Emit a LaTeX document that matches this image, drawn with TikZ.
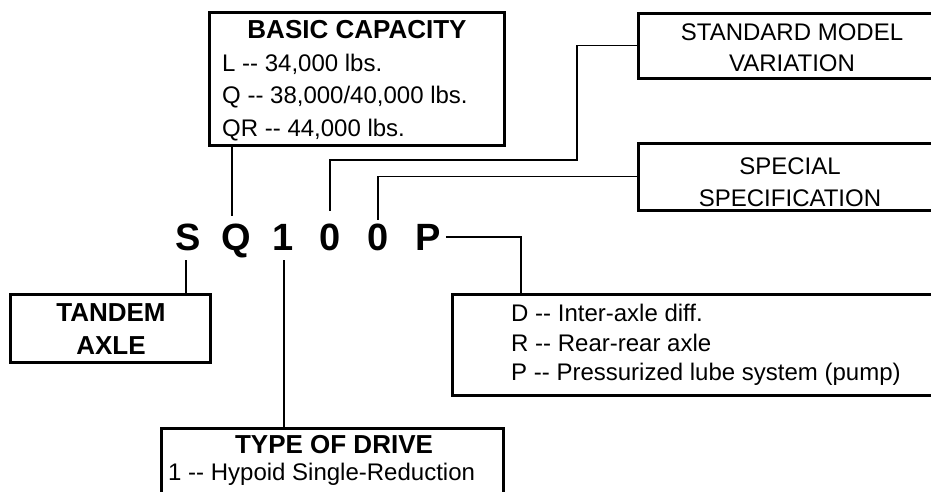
\documentclass[tikz,border=0pt]{standalone}
\usepackage{fontspec}
\setmainfont{Liberation Sans}
\newcommand{\dd}{-{}-}
\tikzset{
  box/.style={draw, line width=3pt, inner sep=0pt, outer sep=0pt, anchor=north west},
  conn/.style={line width=1.4pt},
  head/.style={font=\fontsize{26}{30}\selectfont\bfseries, inner sep=0pt, anchor=base},
  txt/.style={font=\fontsize{24}{28}\selectfont, inner sep=0pt, anchor=base west},
  ctxt/.style={font=\fontsize{24}{28}\selectfont, inner sep=0pt, anchor=base},
  code/.style={font=\fontsize{38}{40}\selectfont\bfseries, inner sep=0pt, anchor=base, text height=27pt, text depth=0pt}
}
\begin{document}
\begin{tikzpicture}[x=1pt,y=-1pt]
\useasboundingbox (0,0) rectangle (931,491);
\clip (0,0) rectangle (931,491);
% boxes
\node[box, minimum width=295pt, minimum height=133pt] (cap) at (209,12) {};
\node[box, minimum width=320pt, minimum height=65pt] (std) at (638,13) {};
\node[box, minimum width=320pt, minimum height=67pt] (spec) at (638,143) {};
\node[box, minimum width=200pt, minimum height=68pt] (tandem) at (10,294) {};
\node[box, minimum width=500pt, minimum height=101pt] (opt) at (452,294) {};
\node[box, minimum width=342pt, minimum height=80pt] (drive) at (161,428) {};
% texts
\node[head] (capT) at (357,38) {BASIC CAPACITY};
\node[txt] (capL) at (222,71) {L \dd\ 34,000 lbs.};
\node[txt] (capQ) at (222,103) {Q \dd\ 38,000/40,000 lbs.};
\node[txt] (capQR) at (222,136) {QR \dd\ 44,000 lbs.};
\node[ctxt] (stdA) at (792,40) {STANDARD MODEL};
\node[ctxt] (stdB) at (792,71) {VARIATION};
\node[ctxt] (specA) at (790,174) {SPECIAL};
\node[ctxt] (specB) at (790,206) {SPECIFICATION};
\node[head] (tanA) at (111,321) {TANDEM};
\node[head] (tanB) at (111,354) {AXLE};
\node[txt] (optD) at (511,321) {D \dd\ Inter-axle diff.};
\node[txt] (optR) at (511,351) {R \dd\ Rear-rear axle};
\node[txt] (optP) at (511,380) {P \dd\ Pressurized lube system (pump)};
\node[head] (drvT) at (334,453) {TYPE OF DRIVE};
\node[txt] (drv1) at (168,480) {1 \dd\ Hypoid Single-Reduction};
% model code letters
\node[code] (lS) at (188,250) {S};
\node[code] (lQ) at (236,250) {Q};
\node[code] (l1) at (283,250) {1};
\node[code] (l0a) at (330,250) {0};
\node[code] (l0b) at (378,250) {0};
\node[code] (lP) at (428,250) {P};
% connectors
\draw[conn] ([xshift=-4pt]cap.south -| lQ.north) -- ([xshift=-4pt,yshift=7pt]lQ.north);
\draw[conn] (std.west) -- ++(-61,0) |- ([yshift=63pt]l0a.north) -- ([yshift=12pt]l0a.north);
\draw[conn] (spec.west) -| ([yshift=3pt]l0b.north);
\draw[conn] ([xshift=5pt,yshift=13pt]lP.base east) -| ([xshift=69pt]opt.north west);
\draw[conn] ([xshift=-2pt,yshift=-10pt]lS.base) -- ([xshift=-2pt]lS.base |- tandem.north);
\draw[conn] ([xshift=1pt,yshift=-10pt]l1.base) -- ([xshift=1pt]l1.base |- drive.north);
\end{tikzpicture}
\end{document}
